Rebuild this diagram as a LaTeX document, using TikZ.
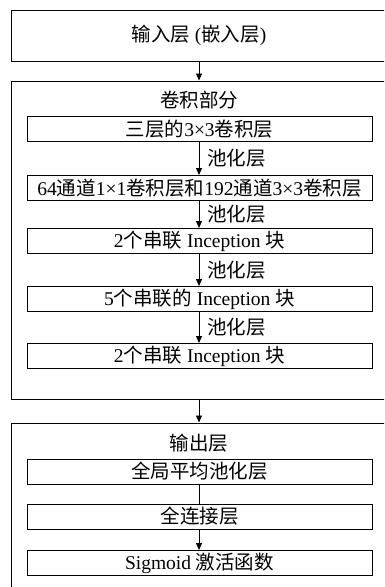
\documentclass[tikz,border=0pt]{standalone}
\usepackage{fontspec}
\setmainfont{Liberation Serif}
\newfontfamily\cjk{Noto Sans CJK SC}
\usetikzlibrary{arrows.meta}
\tikzset{
  outerbox/.style={draw, line width=1pt, minimum width=376pt, inner sep=0pt},
  innerbox/.style={draw, line width=1pt, minimum width=345pt, minimum height=25pt, inner sep=0pt},
  arr/.style={line width=0.9pt, -{Triangle[length=7pt,width=6pt]}},
  plain/.style={line width=0.9pt},
  lbl/.style={anchor=west, inner sep=0pt},
  ttl/.style={inner sep=0pt}
}
\begin{document}
\begin{tikzpicture}[x=1pt,y=-1pt, every node/.style={font=\fontsize{19.5}{22}\selectfont}]
\useasboundingbox (0,0) rectangle (384,587);
\clip (0,0) rectangle (384,587);
% outer boxes
\node[outerbox, minimum height=51pt] (in) at (199,35.5) {{\cjk 输入层} ({\cjk 嵌入层})};
\node[outerbox, minimum height=318pt] (conv) at (199,240) {};
\node[outerbox, minimum height=174pt] (out) at (199,510) {};
% titles
\node[ttl] (convt) at (199,100) {\cjk 卷积部分};
\node[ttl] (outt) at (199,443) {\cjk 输出层};
% inner boxes
\node[innerbox] (b1) at (199.5,129) {{\cjk 三层的}3×3{\cjk 卷积层}};
\node[innerbox] (b2) at (199.5,188) {64{\cjk 通道}1×1{\cjk 卷积层和}192{\cjk 通道}3×3{\cjk 卷积层}};
\node[innerbox] (b3) at (199.5,241) {2{\cjk 个串联} Inception {\cjk 块}};
\node[innerbox] (b4) at (199.5,299) {5{\cjk 个串联的} Inception {\cjk 块}};
\node[innerbox] (b5) at (199.5,356) {2{\cjk 个串联} Inception {\cjk 块}};
\node[innerbox] (b6) at (199.5,471.5) {\cjk 全局平均池化层};
\node[innerbox] (b7) at (199.5,516.5) {\cjk 全连接层};
\node[innerbox] (b8) at (199.5,563) {Sigmoid {\cjk 激活函数}};
% connectors
\draw[arr] (in.south -| 199,0) -- (conv.north -| 199,0);
\draw[arr] (conv.south -| 199,0) -- (out.north -| 199,0);
\draw[arr] (b1.south -| 199,0) -- (b2.north -| 199,0) node[lbl, pos=0.5, xshift=8pt] (p1) {\cjk 池化层};
\draw[arr] (b2.south -| 199,0) -- (b3.north -| 199,0) node[lbl, pos=0.5, xshift=8pt] (p2) {\cjk 池化层};
\draw[arr] (b3.south -| 199,0) -- (b4.north -| 199,0) node[lbl, pos=0.5, xshift=8pt] (p3) {\cjk 池化层};
\draw[arr] (b4.south -| 199,0) -- (b5.north -| 199,0) node[lbl, pos=0.5, xshift=8pt] (p4) {\cjk 池化层};
\draw[plain] (b6.south -| 199,0) -- (b7.north -| 199,0);
\draw[arr] (b7.south -| 199,0) -- (b8.north -| 199,0);
\end{tikzpicture}
\end{document}
